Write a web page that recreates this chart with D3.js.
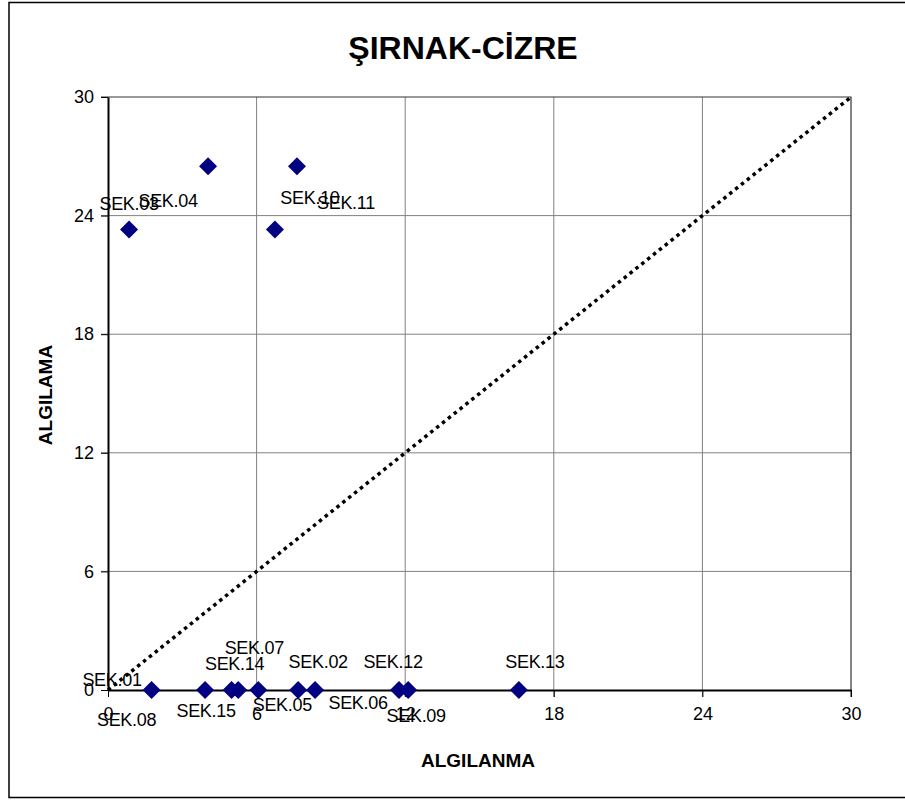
<!DOCTYPE html>
<html>
<head>
<meta charset="utf-8">
<script src="https://cdn.jsdelivr.net/npm/d3@7"></script>
<style>
  body { margin: 0; background: #fff; }
  text { font-family: "Liberation Sans", Arial, sans-serif; }
</style>
</head>
<body>
<script>
var w = 905;
var h = 800;

// data
var labels = ["SEK.01", "SEK.02", "SEK.03", "SEK.04", "SEK.05", "SEK.06", "SEK.07", "SEK.08",
              "SEK.09", "SEK.10", "SEK.11", "SEK.12", "SEK.13", "SEK.14", "SEK.15"];
var algilanma = [0, 7.68, 0.85, 4.04, 6.07, 8.36, 5.26, 1.76, 12.12, 7.63, 6.74, 11.75, 16.59, 4.99, 3.92];
var algilama = [0, 0, 23.3, 26.5, 0, 0, 0, 0, 0, 26.5, 23.3, 0, 0, 0, 0];
var tickValues = [0, 6, 12, 18, 24, 30];

// where each label sits relative to its marker (px)
var labelDx = [4, 20, 0, -40, 24, 43, 16, -25, 8, 13, 71, -6, 16, 3, 1];
var labelDy = [-10, -28, -26, 35, 15, 13, -42, 30, 26, 32, -27, -28, -28, -26, 21];

var dataset = labels.map(function(d, i) {
    return { name: d, x: algilanma[i], y: algilama[i], dx: labelDx[i], dy: labelDy[i] };
});

var plotLeft = 108, plotRight = 851, plotTop = 97, plotBottom = 690;

var xScale = d3.scaleLinear().domain([0, 30]).range([plotLeft, plotRight]);
var yScale = d3.scaleLinear().domain([0, 30]).range([plotBottom, plotTop]);

var svg = d3.select("body")
    .append("svg")
    .attr("width", w)
    .attr("height", h);

// outer chart border
svg.append("rect")
    .attr("x", 9)
    .attr("y", 2.5)
    .attr("width", 905)
    .attr("height", 795)
    .attr("fill", "none")
    .attr("stroke", "#000")
    .attr("stroke-width", 1.5);

// grid
svg.append("g")
    .selectAll("line")
    .data(tickValues.slice(1, 5))
    .enter()
    .append("line")
    .attr("x1", function(d) { return xScale(d); })
    .attr("x2", function(d) { return xScale(d); })
    .attr("y1", plotTop)
    .attr("y2", plotBottom + 7)
    .attr("stroke", "#808080")
    .attr("stroke-width", 1);

svg.append("g")
    .selectAll("line")
    .data(tickValues.slice(1, 5))
    .enter()
    .append("line")
    .attr("y1", function(d) { return yScale(d); })
    .attr("y2", function(d) { return yScale(d); })
    .attr("x1", plotLeft - 7)
    .attr("x2", plotRight)
    .attr("stroke", "#808080")
    .attr("stroke-width", 1);

// top and right frame
svg.append("path")
    .attr("d", "M" + (plotLeft - 7) + "," + plotTop + "H" + plotRight + "V" + (plotBottom + 7))
    .attr("fill", "none")
    .attr("stroke", "#333")
    .attr("stroke-width", 1.2);

// axes
var xAxis = d3.axisBottom(xScale)
    .tickValues(tickValues)
    .tickSize(7)
    .tickSizeOuter(0)
    .tickPadding(10);

var yAxis = d3.axisLeft(yScale)
    .tickValues(tickValues)
    .tickSize(7)
    .tickSizeOuter(0)
    .tickPadding(7);

var gx = svg.append("g")
    .attr("transform", "translate(0," + plotBottom + ")")
    .call(xAxis);
var gy = svg.append("g")
    .attr("transform", "translate(" + plotLeft + ",0)")
    .call(yAxis);

[gx, gy].forEach(function(g) {
    g.select(".domain").attr("stroke", "#000").attr("stroke-width", 2);
    g.selectAll(".tick line").attr("stroke", "#000");
    g.selectAll(".tick text")
        .attr("font-family", "'Liberation Sans', Arial, sans-serif")
        .attr("font-size", "18px")
        .attr("fill", "#000");
});

// diagonal reference line
svg.append("line")
    .attr("x1", xScale(0))
    .attr("y1", yScale(0))
    .attr("x2", xScale(30))
    .attr("y2", yScale(30))
    .attr("stroke", "#000")
    .attr("stroke-width", 3.5)
    .attr("stroke-dasharray", "3.5,4");

// markers (SEK.01 at the origin shows no marker)
svg.append("g")
    .selectAll("path")
    .data(dataset.filter(function(d) { return d.x > 0 || d.y > 0; }))
    .enter()
    .append("path")
    .attr("d", "M0,-9L9,0L0,9L-9,0Z")
    .attr("transform", function(d) {
        return "translate(" + xScale(d.x) + "," + yScale(d.y) + ")";
    })
    .attr("fill", "#000080");

// point labels
svg.append("g")
    .selectAll("text")
    .data(dataset)
    .enter()
    .append("text")
    .text(function(d) { return d.name; })
    .attr("x", function(d) { return xScale(d.x) + d.dx; })
    .attr("y", function(d) { return yScale(d.y) + d.dy; })
    .attr("text-anchor", "middle")
    .attr("dy", "0.35em")
    .attr("font-size", "18px")
    .attr("letter-spacing", "-0.3px")
    .attr("fill", "#000");

// title
svg.append("text")
    .attr("x", 463)
    .attr("y", 59)
    .attr("text-anchor", "middle")
    .attr("font-size", "32px")
    .attr("font-weight", "bold")
    .text("ŞIRNAK-CİZRE");

// X axis label
svg.append("text")
    .attr("text-anchor", "middle")
    .attr("x", 478)
    .attr("y", 767)
    .attr("font-size", "19px")
    .attr("font-weight", "bold")
    .text("ALGILANMA");

// Y axis label
svg.append("text")
    .attr("text-anchor", "middle")
    .attr("transform", "rotate(-90)")
    .attr("x", -395)
    .attr("y", 52)
    .attr("font-size", "19px")
    .attr("font-weight", "bold")
    .text("ALGILAMA");
</script>
</body>
</html>
